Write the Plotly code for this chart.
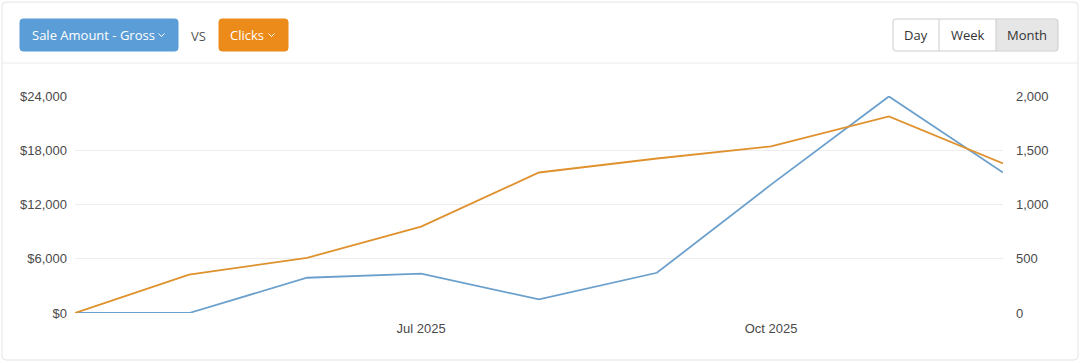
import plotly.graph_objects as go

# ---- data ----
months = ["2025-04-01", "2025-05-01", "2025-06-01", "2025-07-01", "2025-08-01",
          "2025-09-01", "2025-10-01", "2025-11-01", "2025-12-01"]
sale_amount_gross = [0, 0, 3900, 4350, 1500, 4450, 14200, 23950, 15540]
clicks = [0, 353, 508, 797, 1295, 1424, 1535, 1812, 1378]

left_tickvals = [0, 6000, 12000, 18000, 24000]
left_ticktext = ["$0", "$6,000", "$12,000", "$18,000", "$24,000"]
right_tickvals = [0, 500, 1000, 1500, 2000]
right_ticktext = ["0", "500", "1,000", "1,500", "2,000"]
x_tickvals = ["2025-07-01", "2025-10-01"]
x_ticktext = ["Jul 2025", "Oct 2025"]

# ---- geometry (pixels) ----
W, H = 1080, 363
L, R, T, B = 75, 77, 96, 50
PW = W - L - R
PH = H - T - B


def px(x):
    return (x - L) / PW


def py(y):
    return (H - B - y) / PH


def rrect(x0, y0, x1, y1, r=3):
    return (f"M {px(x0 + r)},{py(y0)} L {px(x1 - r)},{py(y0)} "
            f"Q {px(x1)},{py(y0)} {px(x1)},{py(y0 + r)} "
            f"L {px(x1)},{py(y1 - r)} Q {px(x1)},{py(y1)} {px(x1 - r)},{py(y1)} "
            f"L {px(x0 + r)},{py(y1)} Q {px(x0)},{py(y1)} {px(x0)},{py(y1 - r)} "
            f"L {px(x0)},{py(y0 + r)} Q {px(x0)},{py(y0)} {px(x0 + r)},{py(y0)} Z")


BLUE_LINE = "#6ca0cc"
ORANGE_LINE = "#df912d"
BLUE_BTN = "#5b9dd6"
ORANGE_BTN = "#ec8a1a"
FONT = "Liberation Sans, Arial, sans-serif"
UI_FONT = "Open Sans, sans-serif"

fig = go.Figure()
fig.add_trace(go.Scatter(x=months, y=sale_amount_gross, mode="lines",
                         line=dict(color=BLUE_LINE, width=1.8), name="Sale Amount - Gross",
                         yaxis="y"))
fig.add_trace(go.Scatter(x=months, y=clicks, mode="lines",
                         line=dict(color=ORANGE_LINE, width=1.8), name="Clicks",
                         yaxis="y2"))

shapes = []
# card
shapes.append(dict(type="path", xref="paper", yref="paper", path=rrect(2, 2, 1078, 360, 4),
                   line=dict(color="#e4e4e4", width=1), fillcolor="rgba(0,0,0,0)", layer="below"))
# header separator
shapes.append(dict(type="line", xref="paper", yref="paper", x0=px(2), x1=px(1078),
                   y0=py(63), y1=py(63), line=dict(color="#ececec", width=1)))
# left buttons
shapes.append(dict(type="path", xref="paper", yref="paper", path=rrect(20, 19, 178, 51, 3),
                   line=dict(color=BLUE_BTN, width=1), fillcolor=BLUE_BTN))
shapes.append(dict(type="path", xref="paper", yref="paper", path=rrect(219, 19, 288, 51, 3),
                   line=dict(color=ORANGE_BTN, width=1), fillcolor=ORANGE_BTN))
# chevrons
for cx in (161.5, 271.5):
    shapes.append(dict(type="path", xref="paper", yref="paper",
                       path=f"M {px(cx - 3)},{py(33.5)} L {px(cx)},{py(36.5)} L {px(cx + 3)},{py(33.5)}",
                       line=dict(color="white", width=1)))
# right button group
shapes.append(dict(type="rect", xref="paper", yref="paper", x0=px(996), x1=px(1058),
                   y0=py(19.5), y1=py(50.5), line=dict(width=0), fillcolor="#e6e6e6"))
shapes.append(dict(type="path", xref="paper", yref="paper", path=rrect(893, 19, 1058, 51, 3),
                   line=dict(color="#cccccc", width=1), fillcolor="rgba(0,0,0,0)"))
for sx in (939, 996):
    shapes.append(dict(type="line", xref="paper", yref="paper", x0=px(sx), x1=px(sx),
                       y0=py(19), y1=py(51), line=dict(color="#cccccc", width=1)))

annotations = [
    dict(text="Sale Amount - Gross", x=px(93), y=py(35.5), xref="paper", yref="paper",
         showarrow=False, font=dict(family=UI_FONT, size=13, color="white"),
         xanchor="center", yanchor="middle"),
    dict(text="VS", x=px(198), y=py(36), xref="paper", yref="paper",
         showarrow=False, font=dict(family=UI_FONT, size=13, color="#555555"),
         xanchor="center", yanchor="middle"),
    dict(text="Clicks", x=px(247), y=py(35.5), xref="paper", yref="paper",
         showarrow=False, font=dict(family=UI_FONT, size=13, color="white"),
         xanchor="center", yanchor="middle"),
]
for label, cx in (("Day", 916), ("Week", 967.5), ("Month", 1027)):
    annotations.append(dict(text=label, x=px(cx), y=py(35.5), xref="paper", yref="paper",
                            showarrow=False, font=dict(family=UI_FONT, size=13, color="#333333"),
                            xanchor="center", yanchor="middle"))

fig.update_layout(
    width=W, height=H,
    margin=dict(l=L, r=R, t=T, b=B, pad=0),
    paper_bgcolor="white", plot_bgcolor="white",
    showlegend=False,
    shapes=shapes, annotations=annotations,
    xaxis=dict(type="date", range=[months[0], months[-1]], tickvals=x_tickvals,
               ticktext=x_ticktext, showgrid=False, zeroline=False, showline=False,
               ticks="", ticklabelstandoff=6,
               tickfont=dict(family=FONT, size=13, color="#4a4a4a")),
    yaxis=dict(range=[0, 24000], tickvals=left_tickvals, ticktext=left_ticktext,
               showgrid=True, gridcolor="#ededed", gridwidth=1, zeroline=False,
               showline=False, ticks="", ticklabelstandoff=7,
               tickfont=dict(family=FONT, size=13, color="#4a4a4a")),
    yaxis2=dict(range=[0, 2000], tickvals=right_tickvals, ticktext=right_ticktext,
                overlaying="y", side="right", showgrid=False, zeroline=False,
                showline=False, ticks="", ticklabelstandoff=12,
                tickfont=dict(family=FONT, size=13, color="#4a4a4a")),
    hovermode=False,
)

fig.write_html("out.html", config={"displayModeBar": False},
               post_script="document.body.style.margin='0px';document.body.style.overflow='hidden';")
